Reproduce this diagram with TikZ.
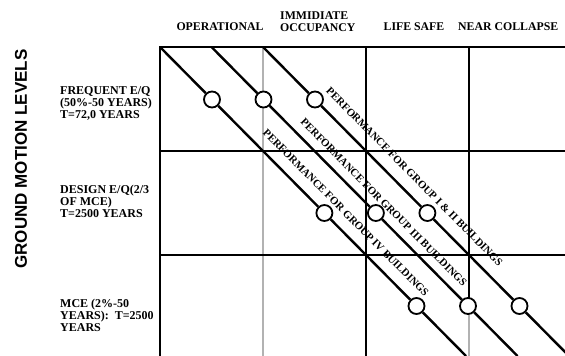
\documentclass[tikz,border=0pt]{standalone}
\usepackage{fontspec}
\setmainfont{Liberation Serif}
\newfontfamily\lsans{Liberation Sans}
\begin{document}
\begin{tikzpicture}[x=1pt,y=-1pt,
 gridk/.style={line width=2pt,black},
 gridg/.style={line width=1.8pt,black!30},
 diag/.style={line width=2.4pt,black},
 dot/.style={circle,draw=black,fill=white,line width=1.8pt,minimum size=16pt,inner sep=0pt},
 perf/.style={font=\bfseries\fontsize{10.8}{11}\selectfont,rotate=-45.3,inner sep=0pt},
 head/.style={font=\bfseries\fontsize{11.8}{11.7}\selectfont,inner sep=0pt,align=left},
 lab/.style={font=\bfseries\fontsize{12}{12}\selectfont,inner sep=0pt,align=left,anchor=north west}]
\useasboundingbox (0,0) rectangle (565,356);
\fill[white] (0,0) rectangle (565,356);
% grid coordinates
\coordinate (t0) at (160,47); \coordinate (t1) at (263,47); \coordinate (t2) at (366,47); \coordinate (t3) at (469,47); \coordinate (tr) at (565,47);
\coordinate (b0) at (160,356); \coordinate (b1) at (263,356); \coordinate (b2) at (366,356); \coordinate (b3) at (469,356);
\coordinate (m3) at (469,306);
\coordinate (r1l) at (160,151); \coordinate (r1r) at (565,151);
\coordinate (r2l) at (160,255); \coordinate (r2r) at (565,255);
% gray verticals
\draw[gridg] (t1) -- (b1);
\draw[gridg] (m3) -- (b3);
% black grid
\draw[gridk] (tr) -- (t0) -- (b0);
\draw[gridk] (t2) -- (b2);
\draw[gridk] (t3) -- (m3);
\draw[gridk] (r1l) -- (r1r);
\draw[gridk] (r2l) -- (r2r);
% diagonals
\coordinate (s1) at (160,47); \coordinate (s2) at (211.5,47); \coordinate (s3) at (263,47);
\coordinate (e1) at (466,356); \coordinate (e2) at (517.5,356); \coordinate (e3) at (569,356);
\node[dot] (c11) at (212,99.5) {};
\node[dot] (c12) at (324.4,213) {};
\node[dot] (c13) at (416.5,306) {};
\node[dot] (c21) at (263.5,99.5) {};
\node[dot] (c22) at (375.9,213) {};
\node[dot] (c23) at (468,306) {};
\node[dot] (c31) at (315,99.5) {};
\node[dot] (c32) at (427.4,213) {};
\node[dot] (c33) at (519.5,306) {};
\begin{scope}
\clip (0,0) rectangle (565,356);
\draw[diag] (s1) -- (c11) (c11) -- (c12) (c12) -- (c13) (c13) -- (e1);
\draw[diag] (s2) -- (c21) (c21) -- (c22) (c22) -- (c23) (c23) -- (e2);
\draw[diag] (s3) -- (c31) (c31) -- (c32) (c32) -- (c33) (c33) -- (e3);
\end{scope}
% diagonal labels
\node[perf] (p12) at (414.5,176.7) {PERFORMANCE FOR GROUP I \& II BUILDINGS};
\node[perf] (p3) at (383.8,202.5) {PERFORMANCE FOR GROUP III BUILDINGS};
\node[perf] (p4) at (345.9,212.9) {PERFORMANCE FOR GROUP IV BUILDINGS};
% headers
\node[head,anchor=base] (op) at (220,30) {OPERATIONAL};
\node[head,anchor=north west] (io) at (280,11.7) {IMMIDIATE\\OCCUPANCY};
\node[head,anchor=base] (ls) at (414,30) {LIFE SAFE};
\node[head,anchor=base west] (nc) at (458,30) {NEAR COLLAPSE};
% row labels
\node[lab] (fq) at (60,86.5) {FREQUENT E/Q\\(50\%-50 YEARS)\\T=72,0 YEARS};
\node[lab] (de) at (60,185) {DESIGN E/Q(2/3\\OF MCE)\\T=2500 YEARS};
\node[lab] (mc) at (60,298.5) {MCE (2\%-50\\YEARS):\ \ T=2500\\YEARS};
\node[font=\lsans\bfseries\fontsize{17}{17}\selectfont,rotate=90,inner sep=0pt] (gml) at (21,159) {GROUND MOTION LEVELS};
\end{tikzpicture}
\end{document}
